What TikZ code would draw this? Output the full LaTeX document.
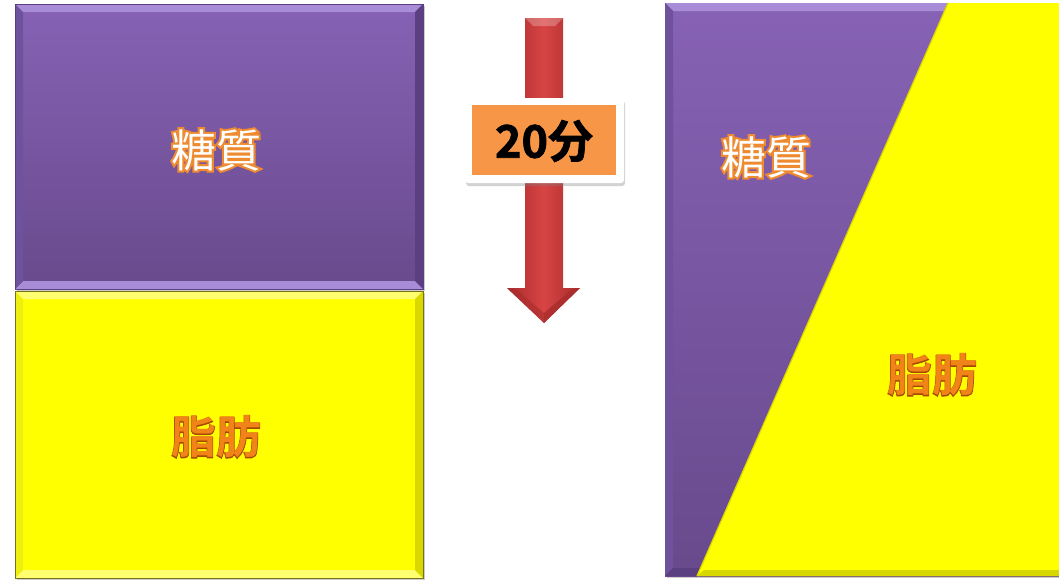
\documentclass[tikz,border=0pt]{standalone}
\usepackage{fontspec}
\newfontfamily\cjk{Noto Sans CJK JP}
\newfontfamily\cjkglow[FakeBold=9]{Noto Sans CJK JP}
\newfontfamily\cjkb{Noto Sans CJK JP Bold}
\newfontfamily\cjkbb[FakeBold=1.6]{Noto Sans CJK JP Bold}
\newfontfamily\cjkedge[FakeBold=2.5]{Noto Sans CJK JP Bold}
\usetikzlibrary{shadows}
\definecolor{purpTop}{HTML}{8762B5}
\definecolor{purpBot}{HTML}{684A8C}
\definecolor{purpLight}{HTML}{A98CD8}
\definecolor{purpSide}{HTML}{6F529E}
\definecolor{purpDark}{HTML}{5A4080}
\definecolor{yel}{HTML}{FFFF00}
\definecolor{yelLight}{HTML}{FFFF70}
\definecolor{yelDark}{HTML}{D8D800}
\definecolor{yelSide}{HTML}{EEEE10}
\definecolor{arrRed}{HTML}{D84444}
\definecolor{arrDark}{HTML}{A82C2C}
\definecolor{orangeBox}{HTML}{F79646}
\definecolor{glow}{HTML}{EE8A30}
\definecolor{fatText}{HTML}{F08418}
\definecolor{fatEdge}{HTML}{A84800}
\tikzset{
  sugartext/.style={font=\fontsize{45}{50}\selectfont, inner sep=0pt},
  fattext/.style={font=\fontsize{45}{50}\selectfont, inner sep=0pt},
  timetext/.style={font=\cjkbb\fontsize{45}{50}\selectfont, inner sep=0pt},
}
\newcommand{\sugarlabel}{\makebox[0pt][l]{\cjkglow\textcolor{glow}{糖質}}{\cjk\textcolor{white}{糖質}}}
\newcommand{\fatlabel}{\makebox[0pt][l]{\cjkedge\textcolor{fatEdge}{脂肪}}{\cjkb\textcolor{fatText}{脂肪}}}
\begin{document}
\begin{tikzpicture}[x=1pt,y=-1pt]
\useasboundingbox (0,0) rectangle (1059,581);
\fill[white] (0,0) rectangle (1059,581);

% ---------- left purple box ----------
\fill[gray!40] (17,6) rectangle (425,291);
\shade[top color=purpTop, bottom color=purpBot] (15,4) rectangle (423,289);
\fill[purpLight] (15,4) -- (423,4) -- (415,12) -- (23,12) -- cycle;
\fill[purpLight] (15,289) -- (423,289) -- (415,281) -- (23,281) -- cycle;
\fill[purpSide] (15,4) -- (23,12) -- (23,281) -- (15,289) -- cycle;
\fill[purpDark] (423,4) -- (415,12) -- (415,281) -- (423,289) -- cycle;
\draw[purpDark, line width=0.6pt] (15,4) rectangle (423,289);

% ---------- left yellow box ----------
\fill[gray!40] (17,293) rectangle (425,580);
\fill[yel] (15,291) rectangle (423,578);
\fill[yelLight] (15,291) -- (423,291) -- (415,299) -- (23,299) -- cycle;
\fill[yelLight] (15,578) -- (423,578) -- (415,570) -- (23,570) -- cycle;
\fill[yelSide] (15,291) -- (23,299) -- (23,570) -- (15,578) -- cycle;
\fill[yelDark] (423,291) -- (415,299) -- (415,570) -- (423,578) -- cycle;
\draw[olive!80!black, line width=0.8pt] (15,291) rectangle (423,578);

\node[sugartext] (sugarL) at (216,150) {\sugarlabel};
\node[fattext] (fatL) at (216,437) {\fatlabel};

% ---------- arrow ----------
\shade[left color=arrDark, right color=arrDark, middle color=arrRed]
  (525,18) -- (563,18) -- (563,288) -- (580,288) -- (544,323) -- (507,288) -- (525,288) -- cycle;
\fill[white, opacity=0.25] (525,18) -- (563,18) -- (555,26) -- (533,26) -- cycle;
\fill[arrDark, opacity=0.6] (507,288) -- (544,323) -- (544,313) -- (517,290) -- cycle;
\fill[arrDark, opacity=0.8] (580,288) -- (544,323) -- (544,313) -- (571,290) -- cycle;

% ---------- time label ----------
\fill[rounded corners=3pt, white, drop shadow={shadow xshift=1pt, shadow yshift=-3pt, opacity=0.35}]
  (465,98) rectangle (624,183);
\fill[orangeBox] (472,105) rectangle (616,175);
\node[timetext, text=black] (time) at (544,141) {20分};

% ---------- right panel ----------
\fill[gray!40] (667,5) rectangle (1059,578);
\shade[top color=purpTop, bottom color=purpBot] (665,3) rectangle (1059,576);
\fill[purpLight] (665,3) -- (1059,3) -- (1059,11) -- (673,11) -- cycle;
\fill[purpSide] (665,3) -- (673,11) -- (673,568) -- (665,576) -- cycle;
\fill[purpDark] (665,576) -- (673,568) -- (1059,568) -- (1059,576) -- cycle;
\fill[yel] (948,3) -- (1059,3) -- (1059,576) -- (697,576) -- cycle;
\fill[yelDark] (697,576) -- (1059,576) -- (1059,570) -- (704,570) -- cycle;
\draw[yelDark, line width=1.2pt] (948,3) -- (697,576);

\node[sugartext] (sugarR) at (766,157) {\sugarlabel};
\node[fattext] (fatR) at (932,375) {\fatlabel};
\end{tikzpicture}
\end{document}
